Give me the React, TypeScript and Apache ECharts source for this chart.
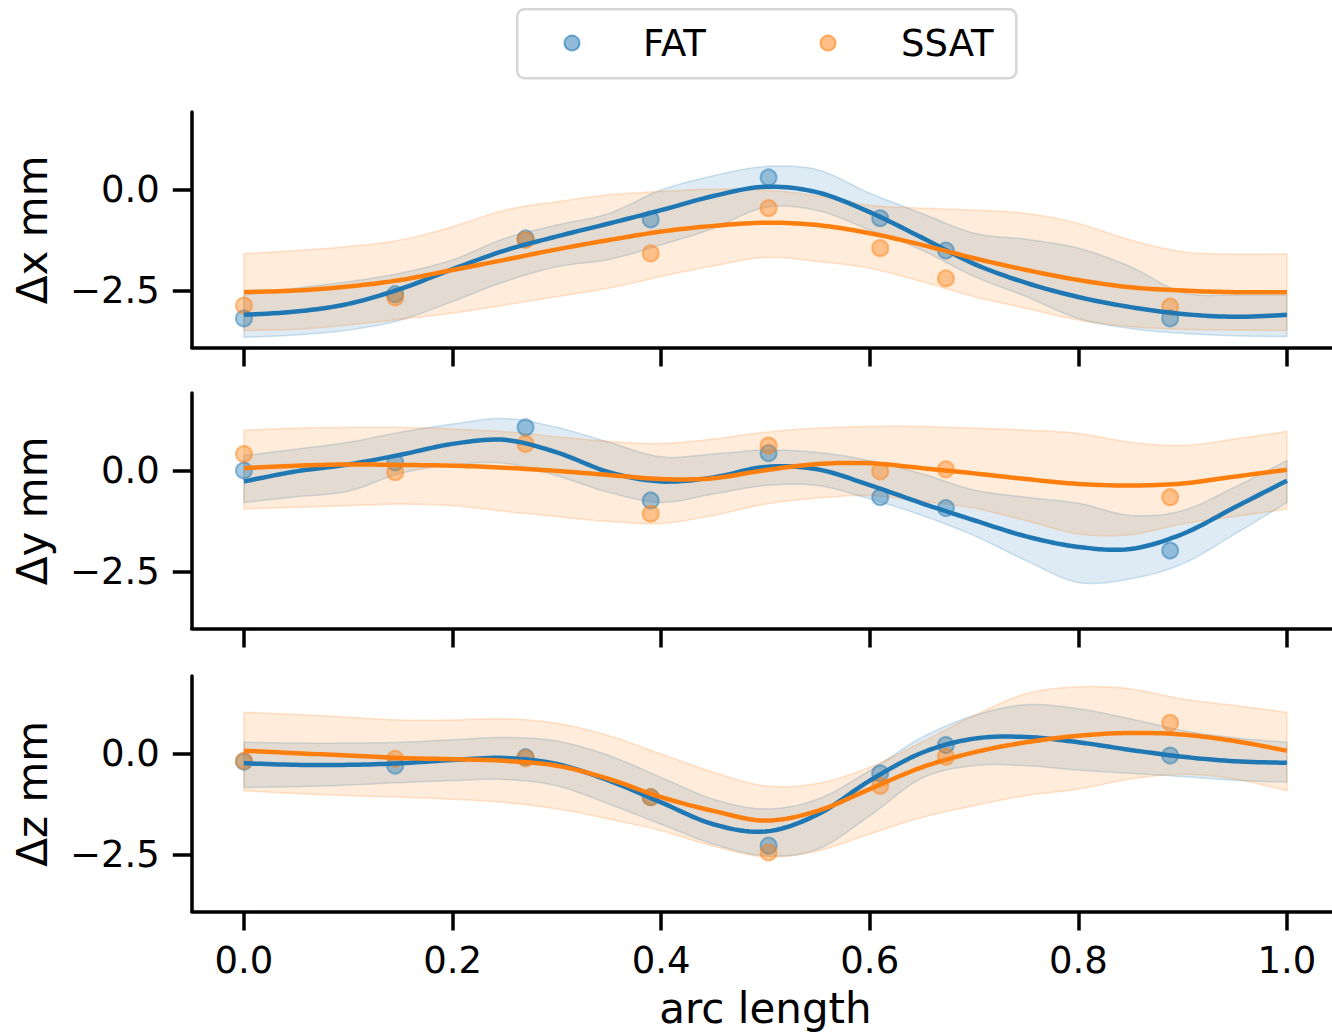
import React, { useEffect, useRef } from "react";
import * as echarts from "echarts";

// ---- data ----
const xs = [0, 0.05, 0.1, 0.15, 0.2, 0.25, 0.3, 0.35, 0.4, 0.45, 0.5, 0.55, 0.6, 0.65, 0.7, 0.75, 0.8, 0.85, 0.9, 0.95, 1.0];
const ptsX = [0, 0.145, 0.27, 0.39, 0.503, 0.61, 0.673, 0.888];
const xTicks = [0, 0.2, 0.4, 0.6, 0.8, 1.0];
const yTicks = [-2.5, 0];
const panelNames = ["Δx mm", "Δy mm", "Δz mm"];
const seriesNames = ["FAT", "SSAT"];

// panel 1: Δx
const fatXPts = [-3.18, -2.58, -1.2, -0.73, 0.31, -0.7, -1.5, -3.18];
const ssatXPts = [-2.86, -2.66, -1.24, -1.57, -0.45, -1.44, -2.19, -2.89];
const fatXMean = [-3.09, -3.01, -2.82, -2.45, -1.96, -1.5, -1.15, -0.83, -0.5, -0.15, 0.08, -0.06, -0.55, -1.18, -1.83, -2.3, -2.65, -2.9, -3.07, -3.14, -3.09];
const fatXLo = [-3.65, -3.59, -3.47, -3.22, -2.76, -2.27, -1.9, -1.72, -1.36, -0.95, -0.43, -0.51, -0.99, -1.49, -2.14, -2.64, -3.18, -3.43, -3.55, -3.61, -3.63];
const fatXHi = [-2.6, -2.43, -2.27, -2.06, -1.73, -1.2, -0.87, -0.58, 0.0, 0.35, 0.58, 0.5, -0.08, -0.58, -1.07, -1.22, -1.44, -1.9, -2.54, -2.6, -2.6];
const ssatXMean = [-2.53, -2.49, -2.39, -2.23, -1.98, -1.73, -1.47, -1.24, -1.03, -0.89, -0.81, -0.87, -1.07, -1.36, -1.69, -1.98, -2.23, -2.41, -2.49, -2.53, -2.53];
const ssatXLo = [-3.48, -3.45, -3.34, -3.2, -3.05, -2.85, -2.64, -2.43, -2.14, -1.88, -1.67, -1.77, -1.94, -2.27, -2.64, -2.93, -3.22, -3.38, -3.45, -3.47, -3.48];
const ssatXHi = [-1.58, -1.5, -1.4, -1.24, -0.91, -0.5, -0.29, -0.12, -0.04, 0.02, 0.0, -0.15, -0.38, -0.45, -0.5, -0.58, -0.83, -1.24, -1.53, -1.59, -1.58];

// panel 2: Δy
const fatYPts = [0.01, 0.21, 1.08, -0.73, 0.44, -0.65, -0.92, -1.97];
const ssatYPts = [0.42, -0.03, 0.67, -1.06, 0.63, -0.01, 0.04, -0.65];
const fatYMean = [-0.26, -0.01, 0.16, 0.4, 0.67, 0.77, 0.46, -0.03, -0.26, -0.16, 0.1, 0.04, -0.35, -0.8, -1.22, -1.62, -1.88, -1.93, -1.56, -0.9, -0.24];
const fatYLo = [-0.78, -0.64, -0.5, -0.06, 0.15, 0.19, -0.12, -0.53, -0.78, -0.57, -0.36, -0.36, -0.69, -1.1, -1.6, -2.22, -2.76, -2.67, -2.3, -1.56, -0.78];
const fatYHi = [0.38, 0.54, 0.71, 0.96, 1.16, 1.3, 1.08, 0.71, 0.35, 0.42, 0.52, 0.46, 0.26, -0.07, -0.47, -0.65, -0.8, -1.1, -0.98, -0.4, 0.26];
const ssatYMean = [0.07, 0.13, 0.16, 0.15, 0.13, 0.08, 0.0, -0.1, -0.2, -0.18, 0.02, 0.17, 0.19, 0.07, -0.06, -0.2, -0.32, -0.36, -0.31, -0.14, 0.03];
const ssatYLo = [-0.94, -0.9, -0.86, -0.82, -0.86, -1.0, -1.13, -1.25, -1.3, -1.1, -0.82, -0.67, -0.61, -0.75, -0.92, -1.23, -1.56, -1.58, -1.31, -1.13, -0.94];
const ssatYHi = [1.01, 1.06, 1.08, 1.08, 1.04, 0.97, 0.85, 0.73, 0.68, 0.79, 0.96, 1.06, 1.1, 1.1, 1.06, 1.01, 0.93, 0.71, 0.63, 0.79, 0.98];

// panel 3: Δz
const fatZPts = [-0.19, -0.29, -0.08, -1.07, -2.27, -0.48, 0.22, -0.04];
const ssatZPts = [-0.17, -0.12, -0.11, -1.07, -2.44, -0.79, -0.07, 0.77];
const fatZMean = [-0.23, -0.27, -0.27, -0.23, -0.15, -0.1, -0.25, -0.66, -1.2, -1.74, -1.92, -1.5, -0.66, 0.03, 0.38, 0.42, 0.29, 0.1, -0.07, -0.18, -0.22];
const fatZLo = [-0.83, -0.81, -0.77, -0.71, -0.66, -0.63, -0.79, -1.24, -1.74, -2.23, -2.52, -2.36, -1.53, -0.6, -0.29, -0.29, -0.4, -0.48, -0.56, -0.65, -0.7];
const fatZHi = [0.29, 0.27, 0.27, 0.29, 0.35, 0.41, 0.32, -0.04, -0.58, -1.12, -1.36, -1.12, -0.41, 0.41, 0.95, 1.22, 1.12, 0.87, 0.58, 0.4, 0.29];
const ssatZMean = [0.08, 0.02, -0.04, -0.1, -0.13, -0.17, -0.29, -0.62, -1.07, -1.41, -1.65, -1.41, -0.87, -0.33, 0.04, 0.29, 0.45, 0.52, 0.48, 0.32, 0.08];
const ssatZLo = [-0.91, -0.98, -1.03, -1.07, -1.12, -1.2, -1.36, -1.61, -1.9, -2.28, -2.55, -2.4, -1.98, -1.57, -1.28, -1.03, -0.87, -0.62, -0.5, -0.62, -0.91];
const ssatZHi = [1.03, 0.98, 0.91, 0.84, 0.84, 0.87, 0.76, 0.45, 0.0, -0.45, -0.79, -0.73, -0.33, 0.29, 0.95, 1.49, 1.66, 1.61, 1.36, 1.2, 1.03];

const panels = [
  { fat: { pts: fatXPts, mean: fatXMean, lo: fatXLo, hi: fatXHi }, ssat: { pts: ssatXPts, mean: ssatXMean, lo: ssatXLo, hi: ssatXHi } },
  { fat: { pts: fatYPts, mean: fatYMean, lo: fatYLo, hi: fatYHi }, ssat: { pts: ssatYPts, mean: ssatYMean, lo: ssatYLo, hi: ssatYHi } },
  { fat: { pts: fatZPts, mean: fatZMean, lo: fatZLo, hi: fatZHi }, ssat: { pts: ssatZPts, mean: ssatZMean, lo: ssatZLo, hi: ssatZHi } },
];

// ---- styling ----
const FONT = "DejaVu Sans";
const BLUE = "#1f77b4";
const ORANGE = "#ff7f0e";
const rgba = (hex: string, a: number) => {
  const r = parseInt(hex.slice(1, 3), 16);
  const g = parseInt(hex.slice(3, 5), 16);
  const b = parseInt(hex.slice(5, 7), 16);
  return `rgba(${r},${g},${b},${a})`;
};
const GRID_LEFT = 191.8;
const GRID_WIDTH = 1147.3;
const GRID_TOPS = [112, 393, 676];
const GRID_H = 235.5;
const Y_MIN = -3.9;
const Y_MAX = 1.93;
const fmtMinus = (v: number) => (v < 0 ? "\u2212" : "") + Math.abs(v).toFixed(1);

// Catmull-Rom smoothing of pixel points (rendering only)
function smoothPx(pts: number[][], seg = 10): number[][] {
  const out: number[][] = [];
  const n = pts.length;
  for (let k = 0; k < n - 1; k++) {
    const p0 = pts[Math.max(k - 1, 0)];
    const p1 = pts[k];
    const p2 = pts[k + 1];
    const p3 = pts[Math.min(k + 2, n - 1)];
    for (let s = 0; s < seg; s++) {
      const t = s / seg;
      const t2 = t * t;
      const t3 = t2 * t;
      const f = (a: number, b: number, c: number, d: number) =>
        0.5 * (2 * b + (-a + c) * t + (2 * a - 5 * b + 4 * c - d) * t2 + (-a + 3 * b - 3 * c + d) * t3);
      out.push([f(p0[0], p1[0], p2[0], p3[0]), f(p0[1], p1[1], p2[1], p3[1])]);
    }
  }
  out.push(pts[n - 1]);
  return out;
}

function bandSeries(i: number, lo: number[], hi: number[], color: string) {
  return {
    type: "custom",
    xAxisIndex: i,
    yAxisIndex: i,
    silent: true,
    z: 1,
    data: xs.map((x, j) => [x, lo[j], hi[j]]),
    encode: { x: 0, y: [1, 2] },
    renderItem: (params: any, api: any) => {
      if (params.dataIndex !== 0) return null;
      const up = xs.map((x, j) => api.coord([x, hi[j]]));
      const dn = xs.map((x, j) => api.coord([x, lo[j]]));
      const pts = smoothPx(up).concat(smoothPx(dn).reverse());
      return {
        type: "polygon",
        shape: { points: pts },
        style: { fill: rgba(color, 0.15), stroke: rgba(color, 0.2), lineWidth: 1.5 },
      };
    },
  };
}

function meanSeries(i: number, mean: number[], color: string, name: string) {
  return {
    type: "custom",
    name,
    xAxisIndex: i,
    yAxisIndex: i,
    silent: true,
    z: 3,
    data: xs.map((x, j) => [x, mean[j]]),
    encode: { x: 0, y: 1 },
    renderItem: (params: any, api: any) => {
      if (params.dataIndex !== 0) return null;
      const pts = xs.map((x, j) => api.coord([x, mean[j]]));
      return {
        type: "polyline",
        shape: { points: smoothPx(pts) },
        style: { fill: "none", stroke: color, lineWidth: 4.5, lineJoin: "round", lineCap: "butt" },
      };
    },
  };
}

function buildOption() {
  const grid: any[] = [];
  const xAxis: any[] = [];
  const yAxis: any[] = [];
  const series: any[] = [];

  panels.forEach((p, i) => {
    grid.push({ left: GRID_LEFT, top: GRID_TOPS[i], width: GRID_WIDTH, height: GRID_H, outerBoundsMode: "none", containLabel: false });
    const last = i === panels.length - 1;
    xAxis.push({
      gridIndex: i,
      type: "value",
      min: -0.05,
      max: 1.05,
      axisLine: { show: true, onZero: false, lineStyle: { color: "#000", width: 3.5 } },
      axisTick: { show: true, length: 19, customValues: xTicks, lineStyle: { color: "#000", width: 3.5 } },
      axisLabel: {
        show: last,
        customValues: xTicks,
        formatter: (v: number) => v.toFixed(1),
        fontSize: 37,
        fontFamily: FONT,
        color: "#000",
        margin: 30,
      },
      splitLine: { show: false },
      name: last ? "arc length" : "",
      nameLocation: "middle",
      nameGap: 76,
      nameTextStyle: { fontSize: 42, fontFamily: FONT, color: "#000" },
    });
    yAxis.push({
      gridIndex: i,
      type: "value",
      min: Y_MIN,
      max: Y_MAX,
      axisLine: { show: true, onZero: false, lineStyle: { color: "#000", width: 3.5 } },
      axisTick: { show: true, length: 19, customValues: yTicks, lineStyle: { color: "#000", width: 3.5 } },
      axisLabel: {
        customValues: yTicks,
        formatter: fmtMinus,
        fontSize: 37,
        fontFamily: FONT,
        color: "#000",
        margin: 32,
      },
      splitLine: { show: false },
      name: panelNames[i],
      nameLocation: "middle",
      nameRotate: 90,
      nameGap: 138,
      nameTextStyle: { fontSize: 42, fontFamily: FONT, color: "#000" },
    });

    const groups = [
      { d: p.fat, color: BLUE, name: seriesNames[0] },
      { d: p.ssat, color: ORANGE, name: seriesNames[1] },
    ];
    groups.forEach((g) => series.push(bandSeries(i, g.d.lo, g.d.hi, g.color)));
    groups.forEach((g) => {
      series.push({
        type: "scatter",
        name: g.name,
        xAxisIndex: i,
        yAxisIndex: i,
        symbolSize: 16,
        data: ptsX.map((x, j) => [x, g.d.pts[j]]),
        itemStyle: { color: rgba(g.color, 0.5), borderColor: rgba(g.color, 0.6), borderWidth: 2 },
        z: 2,
      });
    });
    groups.forEach((g) => series.push(meanSeries(i, g.d.mean, g.color, g.name)));
  });

  const graphic = [
    {
      type: "rect",
      left: 516,
      top: 8,
      shape: { width: 499, height: 69, r: 7 },
      style: { fill: "#fff", stroke: "#d6d6d6", lineWidth: 2.5 },
      z: 10,
    },
    { type: "circle", x: 572, y: 43, shape: { cx: 0, cy: 0, r: 7.5 }, style: { fill: rgba(BLUE, 0.5), stroke: rgba(BLUE, 0.6), lineWidth: 2 }, z: 11 },
    { type: "text", x: 643, y: 43, style: { text: seriesNames[0], font: `37px "${FONT}"`, fill: "#000", verticalAlign: "middle" }, z: 11 },
    { type: "circle", x: 828, y: 43, shape: { cx: 0, cy: 0, r: 7.5 }, style: { fill: rgba(ORANGE, 0.5), stroke: rgba(ORANGE, 0.6), lineWidth: 2 }, z: 11 },
    { type: "text", x: 901, y: 43, style: { text: seriesNames[1], font: `37px "${FONT}"`, fill: "#000", verticalAlign: "middle" }, z: 11 },
  ];

  return {
    animation: false,
    backgroundColor: "#fff",
    textStyle: { fontFamily: FONT },
    grid,
    xAxis,
    yAxis,
    series,
    graphic,
  };
}

export default function App() {
  const ref = useRef<HTMLDivElement>(null);
  useEffect(() => {
    if (!ref.current) return;
    const chart = echarts.init(ref.current, null, { renderer: "svg" });
    chart.setOption(buildOption() as any);
    return () => chart.dispose();
  }, []);
  return (
    <div style={{ position: "absolute", left: 0, top: 0, width: 1332, height: 1035, overflow: "hidden", background: "#fff" }}>
      <div ref={ref} style={{ width: 1345, height: 1035 }} />
    </div>
  );
}
